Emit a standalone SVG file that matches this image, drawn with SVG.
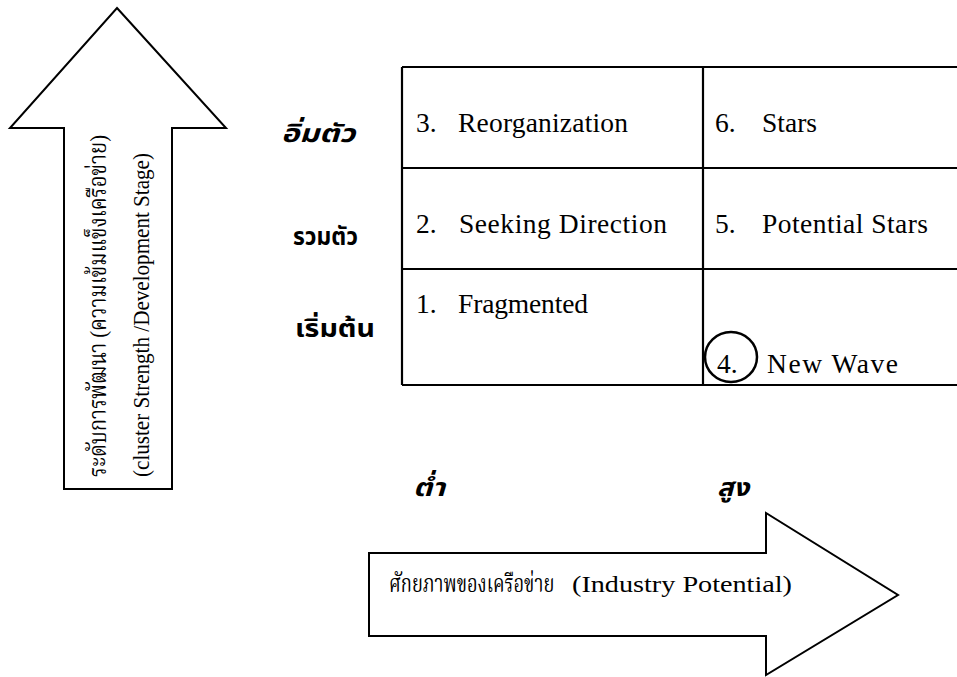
<svg xmlns="http://www.w3.org/2000/svg" width="957" height="677" viewBox="0 0 957 677">
  <style>
    .shape { fill: #ffffff; stroke: #000000; stroke-width: 2; }
    .grid { fill: none; stroke: #000000; stroke-width: 2.2; }
    .cell { font-family: "Liberation Serif", "Times New Roman", serif; font-size: 27.5px; fill: #000; }
    .thaib { font-family: "Noto Sans Thai", "Noto Sans", "Liberation Sans", sans-serif; font-size: 25px; font-weight: bold; fill: #000; }
    .thai { font-family: "Liberation Serif", "Noto Serif Thai", "Noto Sans Thai", serif; font-size: 24px; fill: #000; }
    .eng { font-family: "Liberation Serif", "Times New Roman", serif; font-size: 24px; fill: #000; }
  </style>

  <g id="arrow-up">
    <polygon class="shape" points="117,8 226,128 172,128 172,489 64,489 64,128 10,128"/>
    <text class="thai" transform="translate(106,477) rotate(-90)" textLength="342" lengthAdjust="spacingAndGlyphs">ระดับการพัฒนา (ความเข้มแข็งเครือข่าย)</text>
    <text class="eng" transform="translate(149,477) rotate(-90)" textLength="324" lengthAdjust="spacingAndGlyphs">(cluster Strength /Development Stage)</text>
  </g>

  <g id="matrix">
    <path class="grid" d="M402,67 H960 M402,168 H960 M402,269 H960 M402,385 H960 M402,67 V385 M703,67 V385"/>
  </g>

  <g id="row-labels">
    <text class="thaib" x="281" y="142" font-style="italic" textLength="74" lengthAdjust="spacingAndGlyphs">อิ่มตัว</text>
    <text class="thaib" x="293" y="245" textLength="65" lengthAdjust="spacingAndGlyphs">รวมตัว</text>
    <text class="thaib" x="295" y="337" textLength="80" lengthAdjust="spacingAndGlyphs">เริ่มต้น</text>
  </g>

  <g id="cell-3">
    <text class="cell" y="132"><tspan x="416">3.</tspan><tspan x="458" textLength="170" lengthAdjust="spacing">Reorganization</tspan></text>
  </g>
  <g id="cell-2">
    <text class="cell" y="233"><tspan x="416">2.</tspan><tspan x="459" textLength="208" lengthAdjust="spacing">Seeking  Direction</tspan></text>
  </g>
  <g id="cell-1">
    <text class="cell" y="313"><tspan x="416">1.</tspan><tspan x="458" textLength="130" lengthAdjust="spacing">Fragmented</tspan></text>
  </g>
  <g id="cell-6">
    <text class="cell" y="132"><tspan x="715">6.</tspan><tspan x="762">Stars</tspan></text>
  </g>
  <g id="cell-5">
    <text class="cell" y="233"><tspan x="715">5.</tspan><tspan x="762" textLength="166" lengthAdjust="spacing">Potential  Stars</tspan></text>
  </g>
  <g id="cell-4">
    <ellipse cx="731" cy="357" rx="26" ry="25" fill="none" stroke="#000" stroke-width="2.5"/>
    <text class="cell" y="373"><tspan x="717">4.</tspan><tspan x="767" textLength="131" lengthAdjust="spacing">New  Wave</tspan></text>
  </g>

  <g id="col-labels">
    <text class="thaib" x="413" y="496" font-style="italic" textLength="32" lengthAdjust="spacingAndGlyphs">ต่ำ</text>
    <text class="thaib" x="717" y="496" font-style="italic" textLength="32" lengthAdjust="spacingAndGlyphs">สูง</text>
  </g>

  <g id="arrow-right">
    <polygon class="shape" points="369,553 766,553 766,513 898,595 766,675 766,636 369,636"/>
    <text class="thai" transform="translate(389,592) scale(0.76,1)" font-size="22">ศักยภาพของเครือข่าย</text>
    <text class="eng" x="572" y="592" textLength="220" lengthAdjust="spacingAndGlyphs">(Industry  Potential)</text>
  </g>
</svg>
